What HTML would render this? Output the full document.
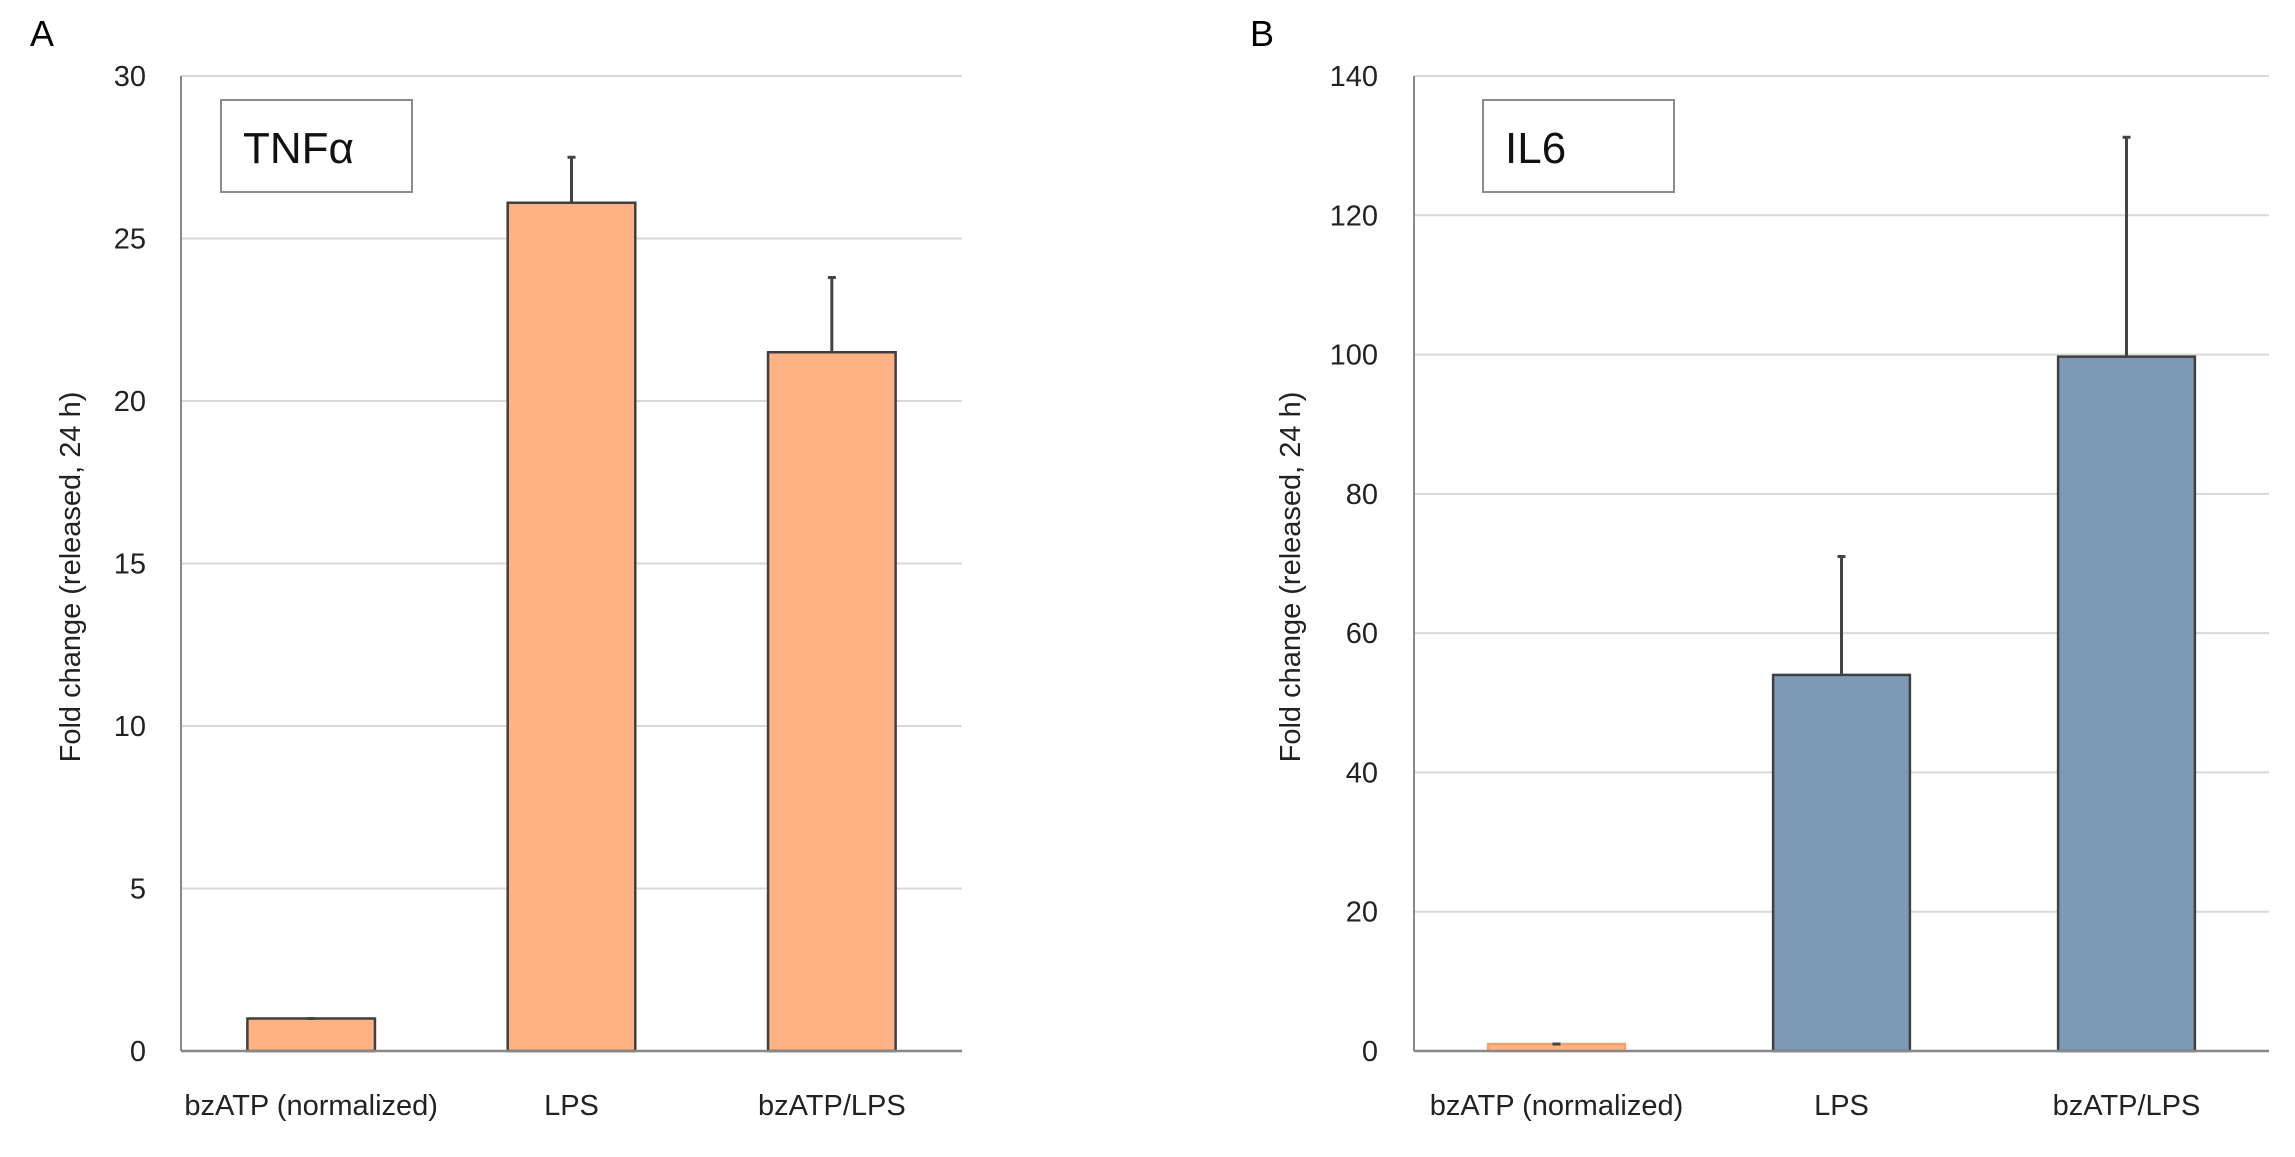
<!DOCTYPE html>
<html><head><meta charset="utf-8">
<style>
html,body{margin:0;padding:0;background:#fff;}
svg{display:block;font-family:"Liberation Sans",sans-serif;}
</style></head>
<body>
<svg id="fig" width="2295" height="1157" viewBox="0 0 2295 1157"></svg>
<script>
const categories = ["bzATP (normalized)", "LPS", "bzATP/LPS"];
const tnfValues = [1, 26.1, 21.5];
const tnfErrors = [0, 1.4, 2.3];
const tnfTicks = [0, 5, 10, 15, 20, 25, 30];
const il6Values = [1, 54, 99.7];
const il6Errors = [0, 17, 31.5];
const il6Ticks = [0, 20, 40, 60, 80, 100, 120, 140];

const NS = "http://www.w3.org/2000/svg";
const svg = document.getElementById("fig");
function mk(tag, attrs, parent, text) {
  const e = document.createElementNS(NS, tag);
  for (const k in attrs) e.setAttribute(k, attrs[k]);
  if (text !== undefined) e.textContent = text;
  (parent || svg).appendChild(e);
  return e;
}

function drawPanel(cfg) {
  const g = mk("g", {});
  
  
  const x0 = cfg.x0, x1 = cfg.x1, yTop = 76, yBot = 1051;
  const ymax = cfg.ticks[cfg.ticks.length - 1];
  const ys = v => yBot - (v / ymax) * (yBot - yTop);
  const catW = (x1 - x0) / categories.length;
  const xc = i => x0 + catW * (i + 0.5);

  const letter = mk("text", {x: cfg.letterX, y: 46, "font-size": 36, fill: "#000"}, g, cfg.letter);
  
  

  cfg.ticks.forEach(t => {
    if (t > 0) {
      const gl = mk("line", {x1: x0, x2: x1, y1: ys(t), y2: ys(t), stroke: "#d9d9d9", "stroke-width": 2}, g);
      
      
    }
    const tl = mk("text", {x: cfg.tickX, y: ys(t) + 10, "font-size": 29, fill: "#222", "text-anchor": "end"}, g, String(t));
    
    
  });

  cfg.values.forEach((v, i) => {
    const bw = catW * cfg.barFrac;
    const orange = i === 0 && cfg.firstOrange;
    const bar = mk("rect", {x: xc(i) - bw / 2, y: ys(v), width: bw, height: yBot - ys(v),
      fill: i === 0 ? "#ffb283" : cfg.fill,
      stroke: orange ? "#f4a070" : "#3f3f3f", "stroke-width": 2.5}, g);
    
    
    const e = cfg.errors[i];
    const eb = mk("path", {d: `M${xc(i)},${ys(v)} V${ys(v + e)} M${xc(i) - 4},${ys(v + e)} H${xc(i) + 4}`,
      stroke: "#444", "stroke-width": 3, fill: "none"}, g);
    
    
    const xl = mk("text", {x: xc(i), y: 1115, "font-size": 29, fill: "#222", "text-anchor": "middle"}, g, categories[i]);
    
    
  });

  const ya = mk("line", {x1: x0, x2: x0, y1: yTop, y2: yBot, stroke: "#888", "stroke-width": 2}, g);
  
  
  const xa = mk("line", {x1: x0, x2: x1, y1: yBot, y2: yBot, stroke: "#888", "stroke-width": 2.5}, g);
  
  

  const yt = mk("text", {x: 0, y: 0, "font-size": 29, fill: "#222", "text-anchor": "middle",
    transform: `translate(${cfg.titleX},577) rotate(-90)`}, g, "Fold change (released, 24 h)");
  
  

  const box = mk("rect", {x: cfg.boxX, y: 100, width: 191, height: 92, fill: "#fff", stroke: "#8c8c8c", "stroke-width": 2}, g);
  
  
  const bt = mk("text", {x: cfg.boxX + 22, y: 163, "font-size": 44, fill: "#111"}, g, cfg.title);
  
  
}

drawPanel({name: "panel-a-tnf", letter: "A", letterX: 30, x0: 181, x1: 962, tickX: 146, titleX: 80,
  ticks: tnfTicks, values: tnfValues, errors: tnfErrors, fill: "#ffb283", barFrac: 0.49,
  boxX: 221, title: "TNFα", firstOrange: false});
drawPanel({name: "panel-b-il6", letter: "B", letterX: 1250, x0: 1414, x1: 2269, tickX: 1378, titleX: 1300,
  ticks: il6Ticks, values: il6Values, errors: il6Errors, fill: "#7c9ab5", barFrac: 0.48,
  boxX: 1483, title: "IL6", firstOrange: true});
</script>
</body></html>
